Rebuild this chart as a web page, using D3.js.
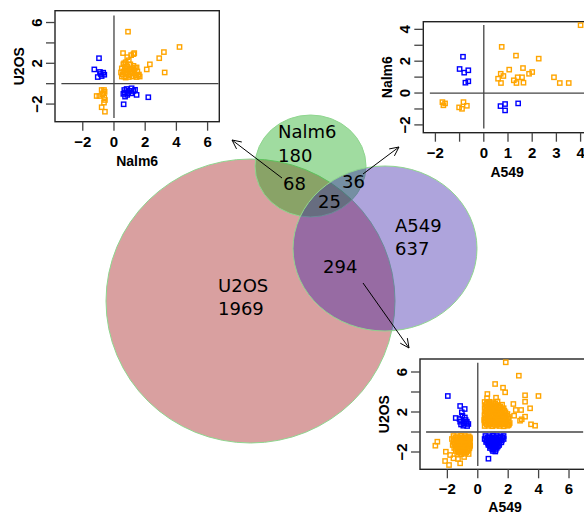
<!DOCTYPE html>
<html><head><meta charset="utf-8">
<script src="https://cdn.jsdelivr.net/npm/d3@7"></script>
<style>html,body{margin:0;padding:0;background:#fff;} svg{display:block}</style>
</head><body><svg id="chart" width="584" height="514"></svg>
<script>
// ---------------- DATA ----------------
const vennNames = ["U2OS", "Nalm6", "A549"];
const vennTotals = [1969, 180, 637];
// overlaps: U2OS∩Nalm6, Nalm6∩A549, all three, U2OS∩A549
const overlapLabels = ["68", "36", "25", "294"];

// Inset 1: Nalm6 (x) vs U2OS (y)
const p1Orange = [[0.9,5.1],[0.58,3.0],[0.85,2.6],[1.1,2.8],[1.25,2.9],[1.3,3.0],[0.75,2.1],[0.95,2.3],[3.2,3.1],[4.2,3.6],[2.9,2.5],[2.3,1.9],[2.1,1.4],[3.25,1.1],[1.45,1.6],
  [0.5,1.5],[0.6,1.2],[0.55,0.9],[0.65,0.7],[0.8,1.0],[0.9,1.3],[1.0,0.8],[1.1,1.1],[1.2,0.7],[1.3,1.0],[1.4,0.8],[1.5,1.2],[1.6,0.9],[0.7,1.6],[0.85,1.7],[1.0,1.5],[1.15,1.4],[1.3,1.3],[0.6,1.9],[0.75,0.6],[0.95,0.65],[1.45,0.65],[1.65,0.7],[1.05,1.9],[1.25,1.75],[0.5,0.7],[0.7,1.3],[1.35,1.55],[1.55,0.85],[0.45,1.1],[0.65,2.0],[0.8,1.45],[1.2,1.2],[0.9,0.9],
  [-0.79,-0.62],[-0.64,-0.62],[-0.69,-0.94],[-0.94,-1.21],[-1.11,-1.21],[-0.58,-1.6],[-0.64,-1.86],[-0.79,-2.31],[-0.58,-2.75],[-0.6,-0.8],[-0.75,-1.05],[-0.62,-1.35]];
const p1Blue = [[-0.96,2.5],[-1.26,1.4],[-0.9,1.15],[-0.69,1.08],[-1.04,0.65],[-0.79,0.75],[-0.62,0.88],[-0.85,0.95],
  [0.66,-0.62],[0.81,-0.52],[1.13,-0.45],[1.24,-0.71],[0.92,-0.94],[0.71,-1.27],[1.45,-1.1],[2.2,-1.33],[0.62,-2.02],[0.7,-0.85],[1.0,-0.7],[0.85,-1.1],[1.1,-0.95],[0.6,-1.0],[1.35,-0.6]];

// Inset 2: A549 (x) vs Nalm6 (y)
const p2Orange = [[4.0,4.26],[0.74,2.9],[1.33,2.35],[2.27,2.16],[1.05,1.47],[1.62,1.57],[1.87,1.21],[2.0,1.32],[0.7,1.21],[0.81,1.07],[0.59,0.9],[0.71,0.63],[1.24,0.8],[1.4,0.99],[1.58,0.99],[1.35,0.63],[1.64,0.65],[2.9,0.99],[3.14,0.63],[3.51,0.63],
  [-1.71,-0.57],[-1.6,-0.65],[-1.67,-0.77],[-0.84,-0.57],[-0.7,-0.8],[-1.02,-0.9],[-0.9,-0.99]];
const p2Blue = [[-0.86,2.28],[-1.0,1.51],[-0.81,1.28],[-0.64,1.43],[-0.76,0.65],[-0.64,0.74],
  [0.69,-0.82],[0.88,-0.69],[0.88,-1.09],[1.42,-0.65]];

// Inset 3: A549 (x) vs U2OS (y)
const p3Orange = [[1.84,6.97],[2.7,5.63],[1.14,4.8],[1.66,4.43],[1.8,3.97],[0.63,3.8],[0.61,3.37],[1.2,3.43],[3.11,3.67],[3.99,3.6],[2.34,2.8],[3.11,3.03],[3.44,2.37],[2.85,2.2],[2.5,2.2],[3.11,1.53],[2.89,1.27],[2.39,1.63],[3.5,0.77],[3.77,0.63],[2.78,1.13],[2.01,0.7],
  [0.45,0.6],[0.7,0.62],[0.95,0.58],[1.2,0.63],[1.45,0.6],[1.7,0.57],[1.95,0.62],
  [0.58,0.75],[0.83,0.77],[1.08,0.73],[1.33,0.76],[1.58,0.74],[1.83,0.77],[2.05,0.75],
  [0.5,0.9],[0.8,0.88],[1.05,0.93],[1.3,0.9],[1.6,0.87],[1.85,0.92],[2.1,0.9],
  [0.45,1.05],[0.68,1.07],[0.93,1.03],[1.18,1.06],[1.45,1.04],[1.72,1.07],[1.98,1.05],
  [0.42,1.2],[0.65,1.22],[0.9,1.18],[1.15,1.2],[1.4,1.23],[1.65,1.17],[1.9,1.2],
  [0.5,1.35],[0.75,1.37],[1.0,1.33],[1.25,1.36],[1.52,1.34],[1.78,1.37],[2.0,1.35],
  [0.55,1.5],[0.8,1.48],[1.05,1.53],[1.3,1.5],[1.55,1.47],[1.8,1.52],[2.05,1.5],
  [0.45,1.65],[0.68,1.67],[0.92,1.63],[1.18,1.66],[1.42,1.64],[1.68,1.67],[1.92,1.65],
  [0.45,1.8],[0.7,1.82],[0.95,1.78],[1.2,1.8],[1.45,1.83],[1.7,1.78],[1.95,1.8],
  [0.58,1.95],[0.82,1.97],[1.08,1.93],[1.32,1.96],[1.58,1.94],[1.82,1.97],
  [0.5,2.1],[0.75,2.08],[1.0,2.12],[1.25,2.1],[1.5,2.07],[1.75,2.12],
  [0.6,2.25],[0.85,2.27],[1.1,2.23],[1.35,2.26],[1.6,2.24],
  [0.45,2.4],[0.7,2.42],[0.95,2.38],[1.2,2.4],[1.45,2.43],[1.7,2.38],
  [0.58,2.55],[0.9,2.57],[1.2,2.53],[1.48,2.56],
  [0.5,2.7],[0.8,2.72],[1.05,2.68],[1.35,2.7],[1.6,2.73],
  [0.6,2.85],[0.9,2.87],[1.15,2.83],
  [0.45,3.0],[0.75,3.02],[1.0,2.98],[1.3,3.05],
  [-1.6,-0.4],[-1.35,-0.42],[-1.1,-0.38],[-0.85,-0.4],[-0.6,-0.43],
  [-1.48,-0.55],[-1.22,-0.57],[-0.98,-0.53],[-0.72,-0.56],[-0.52,-0.55],
  [-1.7,-0.7],[-1.45,-0.72],[-1.2,-0.68],[-0.95,-0.7],[-0.7,-0.73],[-0.5,-0.7],
  [-1.58,-0.85],[-1.32,-0.87],[-1.08,-0.83],[-0.82,-0.86],[-0.58,-0.84],
  [-1.6,-1.0],[-1.35,-1.02],[-1.1,-0.98],[-0.85,-1.0],[-0.6,-1.03],
  [-1.52,-1.15],[-1.28,-1.17],[-1.02,-1.13],[-0.78,-1.16],[-0.55,-1.14],
  [-1.65,-1.3],[-1.4,-1.32],[-1.15,-1.28],[-0.9,-1.3],[-0.65,-1.33],[-0.5,-1.3],
  [-1.45,-1.45],[-1.2,-1.47],[-0.95,-1.43],[-0.72,-1.46],[-0.52,-1.44],
  [-1.55,-1.6],[-1.3,-1.62],[-1.05,-1.58],[-0.8,-1.6],[-0.55,-1.63],
  [-1.35,-1.75],[-1.1,-1.77],[-0.85,-1.73],[-0.62,-1.76],
  [-1.45,-1.9],[-1.2,-1.92],[-0.95,-1.88],[-0.7,-1.9],
  [-1.25,-2.05],[-1.0,-2.07],[-0.75,-2.03],
  [-1.35,-2.2],[-1.1,-2.22],[-0.85,-2.18],[-0.6,-2.2],
  [-2.66,-0.97],[-2.79,-1.37],[-2.1,-1.97],[-1.82,-2.3],[-2.15,-2.9],[-1.89,-3.3],[-1.16,-3.13],[-1.6,-2.63],[-1.3,-2.7],[-0.9,-2.5]];
const p3Blue = [[-1.97,3.6],[-1.16,2.6],[-0.86,2.3],[-1.05,1.97],[-1.01,1.63],[-1.45,1.4],[-1.16,1.03],[-0.9,0.87],[-0.72,1.03],[-0.62,0.8],[-0.95,0.63],[-1.2,1.3],[-0.8,1.2],[-0.7,0.6],[-1.1,0.75],[-0.85,1.45],[-0.75,0.9],
  [0.5,-0.4],[0.75,-0.42],[1.0,-0.38],[1.25,-0.4],[1.5,-0.43],[1.7,-0.4],
  [0.62,-0.55],[0.88,-0.57],[1.12,-0.53],[1.38,-0.56],[1.62,-0.54],
  [0.45,-0.7],[0.7,-0.72],[0.95,-0.68],[1.2,-0.7],[1.45,-0.73],[1.7,-0.7],
  [0.58,-0.85],[0.82,-0.87],[1.08,-0.83],[1.32,-0.86],[1.58,-0.84],
  [0.55,-1.0],[0.8,-1.02],[1.05,-0.98],[1.3,-1.0],[1.55,-1.03],
  [0.68,-1.15],[0.92,-1.17],[1.18,-1.13],[1.42,-1.16],
  [0.7,-1.3],[0.95,-1.32],[1.2,-1.28],[1.4,-1.3],
  [0.85,-1.45],[1.1,-1.47],[1.32,-1.44],
  [0.8,-1.6],[1.05,-1.62],[1.25,-1.58],
  [0.95,-1.75],[1.18,-1.77],
  [1.0,-1.9],[1.15,-1.95],
  [0.7,-2.67]];

const xTicks1 = [-2, 0, 2, 4, 6], yTicks1 = [-2, 0, 2, 4, 6], yTickLabels1 = [6, 2, -2];
const xTicks2 = [-2, -1, 0, 1, 2, 3, 4], xTickLabels2 = [-2, 0, 1, 2, 3, 4];
const yTicks2 = [-2, -1, 0, 1, 2, 3, 4], yTickLabels2 = [4, 2, 0, -2];
const xTicks3 = [-2, 0, 2, 4, 6], yTicks3 = [-2, 0, 2, 4, 6], yTickLabels3 = [6, 2, -2];
const crossRange1 = [-3.37, 6.7], crossRange2 = [-2.23, 4.28], crossRange3 = [-3.4, 6.93];

// ---------------- DRAW ----------------
const svg = d3.select("#chart");

// Venn circles
const circles = [
  {name: vennNames[0], cx: 250.5, cy: 301, rx: 144.5, ry: 142, fill: "rgb(160,17,17)"},
  {name: vennNames[1], cx: 310.5, cy: 166, rx: 55.5, ry: 51, fill: "rgb(17,167,17)"},
  {name: vennNames[2], cx: 385, cy: 248.5, rx: 92, ry: 82.5, fill: "rgb(53,28,168)"}
];
svg.append("g").selectAll("ellipse").data(circles).join("ellipse")
  .attr("cx", d => d.cx).attr("cy", d => d.cy).attr("rx", d => d.rx).attr("ry", d => d.ry)
  .attr("fill", d => d.fill).attr("fill-opacity", 0.4)
  .attr("stroke", "#8fd68f").attr("stroke-width", 1);

const vennText = [
  {t: vennNames[1], x: 278, y: 138}, {t: String(vennTotals[1]), x: 278, y: 162},
  {t: overlapLabels[0], x: 283, y: 190},
  {t: overlapLabels[1], x: 342, y: 188},
  {t: overlapLabels[2], x: 318, y: 208},
  {t: vennNames[2], x: 395, y: 232}, {t: String(vennTotals[2]), x: 395, y: 255},
  {t: overlapLabels[3], x: 323, y: 273},
  {t: vennNames[0], x: 218, y: 292}, {t: String(vennTotals[0]), x: 218, y: 315}
];
svg.append("g").selectAll("text").data(vennText).join("text")
  .attr("x", d => d.x).attr("y", d => d.y).text(d => d.t)
  .attr("font-family", "DejaVu Sans").attr("font-size", 18).attr("fill", "#000");

// arrows
const arrows = [
  {x1: 282, y1: 178, x2: 232, y2: 140},
  {x1: 363, y1: 174, x2: 399, y2: 147},
  {x1: 363, y1: 283, x2: 409, y2: 348}
];
const ag = svg.append("g").attr("stroke", "#000").attr("stroke-width", 1).attr("fill", "none");
arrows.forEach(a => {
  ag.append("line").attr("x1", a.x1).attr("y1", a.y1).attr("x2", a.x2).attr("y2", a.y2);
  const ang = Math.atan2(a.y1 - a.y2, a.x1 - a.x2), L = 10, h = 0.45;
  ag.append("path").attr("d",
    `M${a.x2 + L*Math.cos(ang+h)},${a.y2 + L*Math.sin(ang+h)}L${a.x2},${a.y2}L${a.x2 + L*Math.cos(ang-h)},${a.y2 + L*Math.sin(ang-h)}`);
});

// insets
const fmt = v => v < 0 ? "\u2212" + Math.abs(v) : String(v);
function inset(cfg) {
  const g = svg.append("g");
  const x = d3.scaleLinear().domain(cfg.xd).range([cfg.left, cfg.right]);
  const y = d3.scaleLinear().domain(cfg.yd).range([cfg.bottom, cfg.top]);
  g.append("rect").attr("x", cfg.left).attr("y", cfg.top)
    .attr("width", cfg.right - cfg.left).attr("height", cfg.bottom - cfg.top)
    .attr("fill", "#fff").attr("stroke", "#222").attr("stroke-width", 1.4);
  // crosshair
  g.append("line").attr("x1", x(0)).attr("x2", x(0)).attr("y1", y(cfg.cross[1])).attr("y2", y(cfg.cross[0]))
    .attr("stroke", "#444").attr("stroke-width", 1.3);
  g.append("line").attr("y1", y(0)).attr("y2", y(0)).attr("x1", x(cfg.cross[0])).attr("x2", x(cfg.cross[1]))
    .attr("stroke", "#444").attr("stroke-width", 1.3);
  // ticks
  const tk = 9;
  g.selectAll("line.xt").data(cfg.xt).join("line").attr("class", "xt")
    .attr("x1", d => x(d)).attr("x2", d => x(d)).attr("y1", cfg.bottom).attr("y2", cfg.bottom + tk)
    .attr("stroke", "#444").attr("stroke-width", 1.3);
  g.selectAll("line.yt").data(cfg.yt).join("line").attr("class", "yt")
    .attr("y1", d => y(d)).attr("y2", d => y(d)).attr("x1", cfg.left).attr("x2", cfg.left - tk)
    .attr("stroke", "#444").attr("stroke-width", 1.3);
  const font = {"font-family": "Liberation Sans, Arial, sans-serif", "font-weight": "bold"};
  const xl = g.selectAll("text.xl").data(cfg.xtl).join("text").attr("class", "xl")
    .attr("x", d => x(d)).attr("y", cfg.bottom + 25).attr("text-anchor", "middle").attr("font-size", 15).text(fmt);
  const yl = g.selectAll("text.yl").data(cfg.ytl).join("text").attr("class", "yl")
    .attr("x", cfg.left - 13).attr("y", d => y(d)).attr("text-anchor", "middle").attr("font-size", 15)
    .attr("transform", d => `rotate(-90,${cfg.left - 13},${y(d)})`).text(fmt);
  const xt = g.append("text").attr("x", (cfg.left + cfg.right) / 2).attr("y", Math.min(cfg.bottom + 44, 512))
    .attr("text-anchor", "middle").attr("font-size", 14).text(cfg.xlab);
  const cy = (cfg.top + cfg.bottom) / 2;
  const yt = g.append("text").attr("x", cfg.left - 31).attr("y", cy).attr("text-anchor", "middle").attr("font-size", 14)
    .attr("transform", `rotate(-90,${cfg.left - 31},${cy})`).text(cfg.ylab);
  [xl, yl, xt, yt].forEach(s => Object.entries(font).forEach(([k, v]) => s.attr(k, v)));
  // points
  const s = 4.3;
  const clip = "clip" + cfg.id;
  g.append("clipPath").attr("id", clip).append("rect").attr("x", cfg.left).attr("y", cfg.top)
    .attr("width", cfg.right - cfg.left).attr("height", cfg.bottom - cfg.top);
  const pg = g.append("g").attr("clip-path", `url(#${clip})`).attr("fill", "none").attr("stroke-width", 1.4);
  pg.selectAll("rect.o").data(cfg.orange).join("rect").attr("class", "o")
    .attr("x", d => x(d[0]) - s/2).attr("y", d => y(d[1]) - s/2).attr("width", s).attr("height", s)
    .attr("stroke", "#FFA500");
  pg.selectAll("rect.b").data(cfg.blue).join("rect").attr("class", "b")
    .attr("x", d => x(d[0]) - s/2).attr("y", d => y(d[1]) - s/2).attr("width", s).attr("height", s)
    .attr("stroke", "#0000FF");
}

inset({id: 1, left: 55, right: 219.3, top: 10.7, bottom: 121.7, xd: [-3.78, 6.75], yd: [-3.73, 7.16],
  xt: xTicks1, xtl: xTicks1, yt: yTicks1, ytl: yTickLabels1, xlab: "Nalm6", ylab: "U2OS",
  cross: crossRange1, orange: p1Orange, blue: p1Blue});
inset({id: 2, left: 423.3, right: 591, top: 21.7, bottom: 132.7, xd: [-2.5, 4.43], yd: [-2.49, 4.48],
  xt: xTicks2, xtl: xTickLabels2, yt: yTicks2, ytl: yTickLabels2, xlab: "A549", ylab: "Nalm6",
  cross: crossRange2, orange: p2Orange, blue: p2Blue});
inset({id: 3, left: 420, right: 590, top: 359, bottom: 469.3, xd: [-3.8, 7.38], yd: [-3.73, 7.3],
  xt: xTicks3, xtl: xTicks3, yt: yTicks3, ytl: yTickLabels3, xlab: "A549", ylab: "U2OS",
  cross: crossRange3, orange: p3Orange, blue: p3Blue});
</script></body></html>
